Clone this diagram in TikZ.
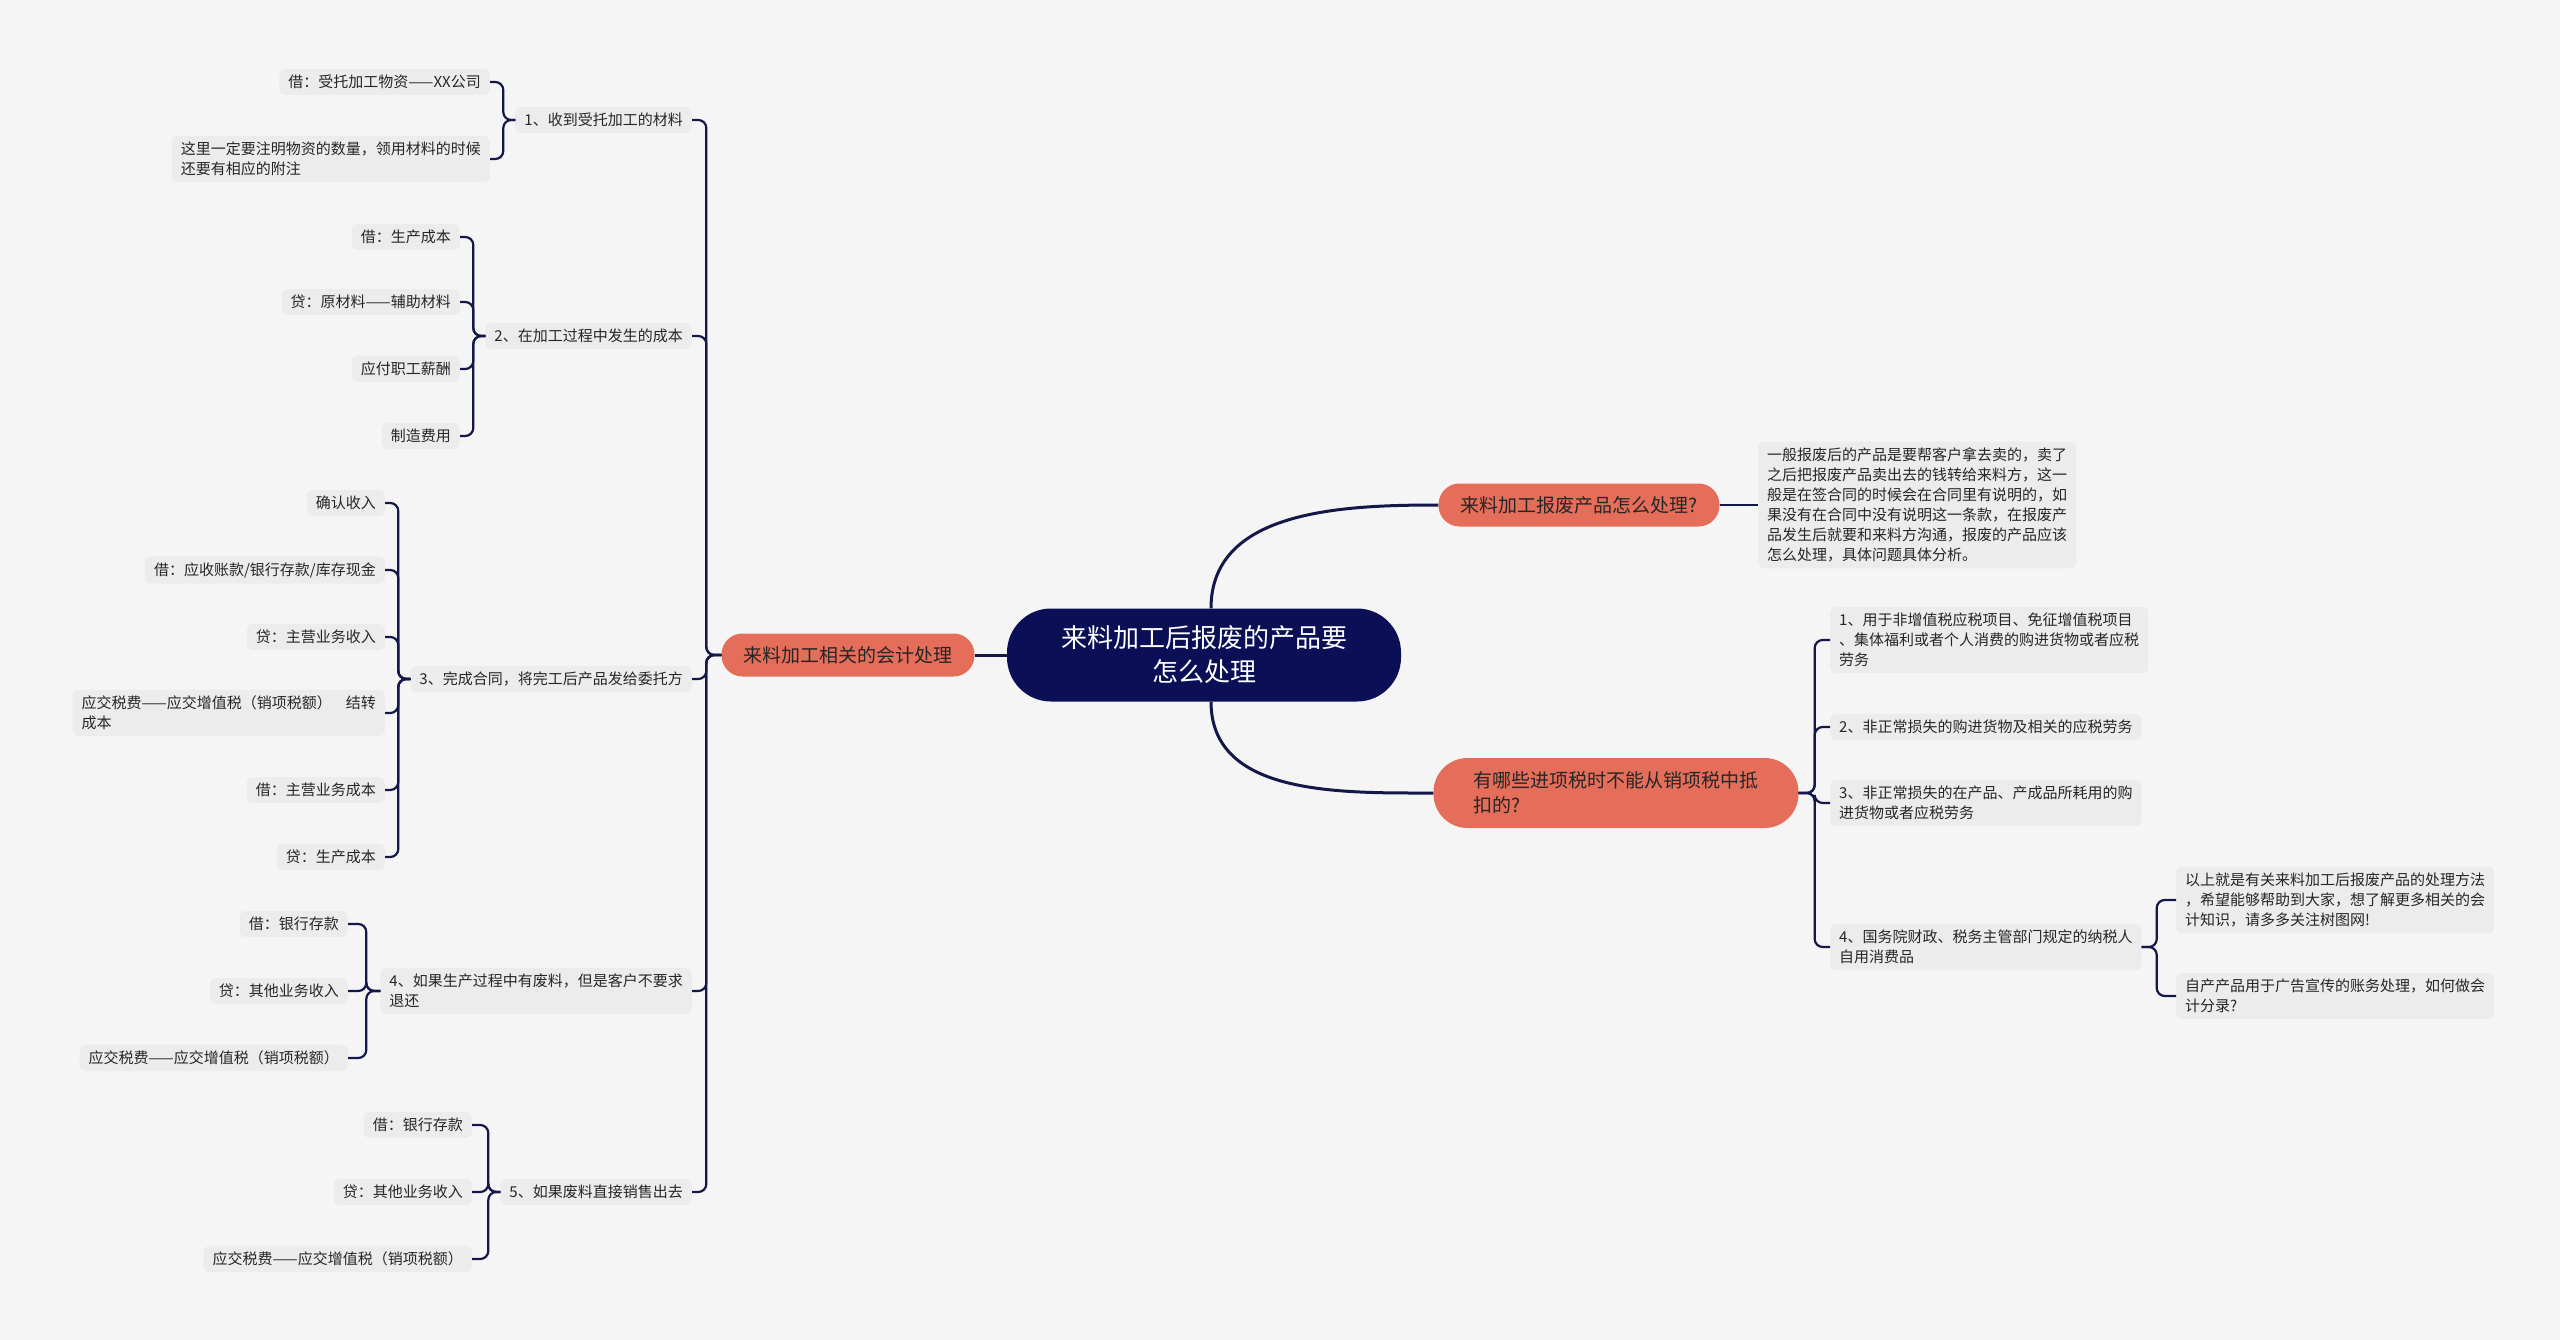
\documentclass[tikz,border=0pt]{standalone}
\usepackage{fontspec}
\newfontfamily\cjk{Noto Sans CJK SC}
\definecolor{bgpaper}{RGB}{245,245,245}
\definecolor{rootnavy}{RGB}{11,16,86}
\definecolor{branchred}{RGB}{228,110,90}
\definecolor{leafgray}{RGB}{236,236,236}
\definecolor{linknavy}{RGB}{20,24,72}
\usepackage{tikz}

\tikzset{
  leafbox/.style={fill=leafgray, rounded corners=6pt, inner xsep=9pt, inner ysep=6pt, align=left, text=black!85, font=\cjk\fontsize{15}{20}\selectfont},
  branchbox/.style={fill=branchred, rounded corners=21pt, inner xsep=22pt, minimum height=43pt, align=left, text=black!85, font=\cjk\fontsize{19}{25}\selectfont},
  rootbox/.style={fill=rootnavy, rounded corners=44pt, minimum width=394pt, minimum height=93pt, align=center, text=white, font=\cjk\fontsize{26}{34}\selectfont},
  link/.style={draw=linknavy, line width=2.2pt, rounded corners=8pt},
  rootlink/.style={draw=linknavy, line width=3pt},
}

\begin{document}
\begin{tikzpicture}[x=1pt, y=-1pt]
  \fill[bgpaper] (0,0) rectangle (2560,1340);

  % centre and the three branches
  \node[rootbox] (root) at (1204,655) {来料加工后报废的产品要\\怎么处理};
  \node[branchbox] (acct) at (848,655) {来料加工相关的会计处理};
  \node[branchbox] (scrap) at (1579,505) {来料加工报废产品怎么处理?};
  \node[branchbox, inner xsep=40pt, rounded corners=34pt, minimum height=70pt] (vat) at (1616,793) {有哪些进项税时不能从销项税中抵\\扣的?};

  \draw[rootlink] (root.west) -- (acct.east);
  \draw[rootlink] ([xshift=7pt]root.north) to[out=90, in=180] (scrap.west);
  \draw[rootlink] ([xshift=7pt]root.south) to[out=-90, in=180] (vat.west);

  % right side
  \node[leafbox, anchor=west] (scrapnote) at (1758,505) {一般报废后的产品是要帮客户拿去卖的，卖了\\之后把报废产品卖出去的钱转给来料方，这一\\般是在签合同的时候会在合同里有说明的，如\\果没有在合同中没有说明这一条款，在报废产\\品发生后就要和来料方沟通，报废的产品应该\\怎么处理，具体问题具体分析。};
  \draw[link] (scrap.east) -- (scrapnote.west);

  \node[leafbox, anchor=west] (vat1) at (1830,640) {1、用于非增值税应税项目、免征增值税项目\\、集体福利或者个人消费的购进货物或者应税\\劳务};
  \node[leafbox, anchor=west] (vat2) at (1830,727) {2、非正常损失的购进货物及相关的应税劳务};
  \node[leafbox, anchor=west] (vat3) at (1830,803) {3、非正常损失的在产品、产成品所耗用的购\\进货物或者应税劳务};
  \node[leafbox, anchor=west] (vat4) at (1830,947) {4、国务院财政、税务主管部门规定的纳税人\\自用消费品};
  \foreach \n in {vat1,vat2,vat3,vat4}
    \draw[link] (vat.east) -- ++(16,0) |- (\n.west);

  \node[leafbox, anchor=west] (summary) at (2176,900) {以上就是有关来料加工后报废产品的处理方法\\，希望能够帮助到大家，想了解更多相关的会\\计知识，请多多关注树图网!};
  \node[leafbox, anchor=west] (advert) at (2176,996) {自产产品用于广告宣传的账务处理，如何做会\\计分录?};
  \foreach \n in {summary,advert}
    \draw[link] (vat4.east) -- ++(15,0) |- (\n.west);

  % left side: five steps
  \node[leafbox, anchor=east] (step1) at (692,120) {1、收到受托加工的材料};
  \node[leafbox, anchor=east] (step2) at (692,336) {2、在加工过程中发生的成本};
  \node[leafbox, anchor=east] (step3) at (692,679) {3、完成合同，将完工后产品发给委托方};
  \node[leafbox, anchor=east] (step4) at (692,991) {4、如果生产过程中有废料，但是客户不要求\\退还};
  \node[leafbox, anchor=east] (step5) at (692,1192) {5、如果废料直接销售出去};
  \foreach \n in {step1,step2,step3,step4,step5}
    \draw[link] (acct.west) -- ++(-15,0) |- (\n.east);

  \node[leafbox, anchor=east] (recv1) at (490,82) {借：受托加工物资——XX公司};
  \node[leafbox, anchor=east] (recv2) at (490,159) {这里一定要注明物资的数量，领用材料的时候\\还要有相应的附注};
  \foreach \n in {recv1,recv2}
    \draw[link] (step1.west) -- ++(-12,0) |- (\n.east);

  \node[leafbox, anchor=east] (cost1) at (460,237) {借：生产成本};
  \node[leafbox, anchor=east] (cost2) at (460,302) {贷：原材料——辅助材料};
  \node[leafbox, anchor=east] (cost3) at (460,369) {应付职工薪酬};
  \node[leafbox, anchor=east] (cost4) at (460,436) {制造费用};
  \foreach \n in {cost1,cost2,cost3,cost4}
    \draw[link] (step2.west) -- ++(-12,0) |- (\n.east);

  \node[leafbox, anchor=east] (sale1) at (385,503) {确认收入};
  \node[leafbox, anchor=east] (sale2) at (385,570) {借：应收账款/银行存款/库存现金};
  \node[leafbox, anchor=east] (sale3) at (385,637) {贷：主营业务收入};
  \node[leafbox, anchor=east] (sale4) at (385,713) {应交税费——应交增值税（销项税额）\hspace{14pt}结转\\成本};
  \node[leafbox, anchor=east] (sale5) at (385,790) {借：主营业务成本};
  \node[leafbox, anchor=east] (sale6) at (385,857) {贷：生产成本};
  \foreach \n in {sale1,sale2,sale3,sale4,sale5,sale6}
    \draw[link] (step3.west) -- ++(-12,0) |- (\n.east);

  \node[leafbox, anchor=east] (waste1) at (348,924) {借：银行存款};
  \node[leafbox, anchor=east] (waste2) at (348,991) {贷：其他业务收入};
  \node[leafbox, anchor=east] (waste3) at (348,1058) {应交税费——应交增值税（销项税额）};
  \foreach \n in {waste1,waste2,waste3}
    \draw[link] (step4.west) -- ++(-14,0) |- (\n.east);

  \node[leafbox, anchor=east] (sold1) at (472,1125) {借：银行存款};
  \node[leafbox, anchor=east] (sold2) at (472,1192) {贷：其他业务收入};
  \node[leafbox, anchor=east] (sold3) at (472,1259) {应交税费——应交增值税（销项税额）};
  \foreach \n in {sold1,sold2,sold3}
    \draw[link] (step5.west) -- ++(-12,0) |- (\n.east);
\end{tikzpicture}
\end{document}
